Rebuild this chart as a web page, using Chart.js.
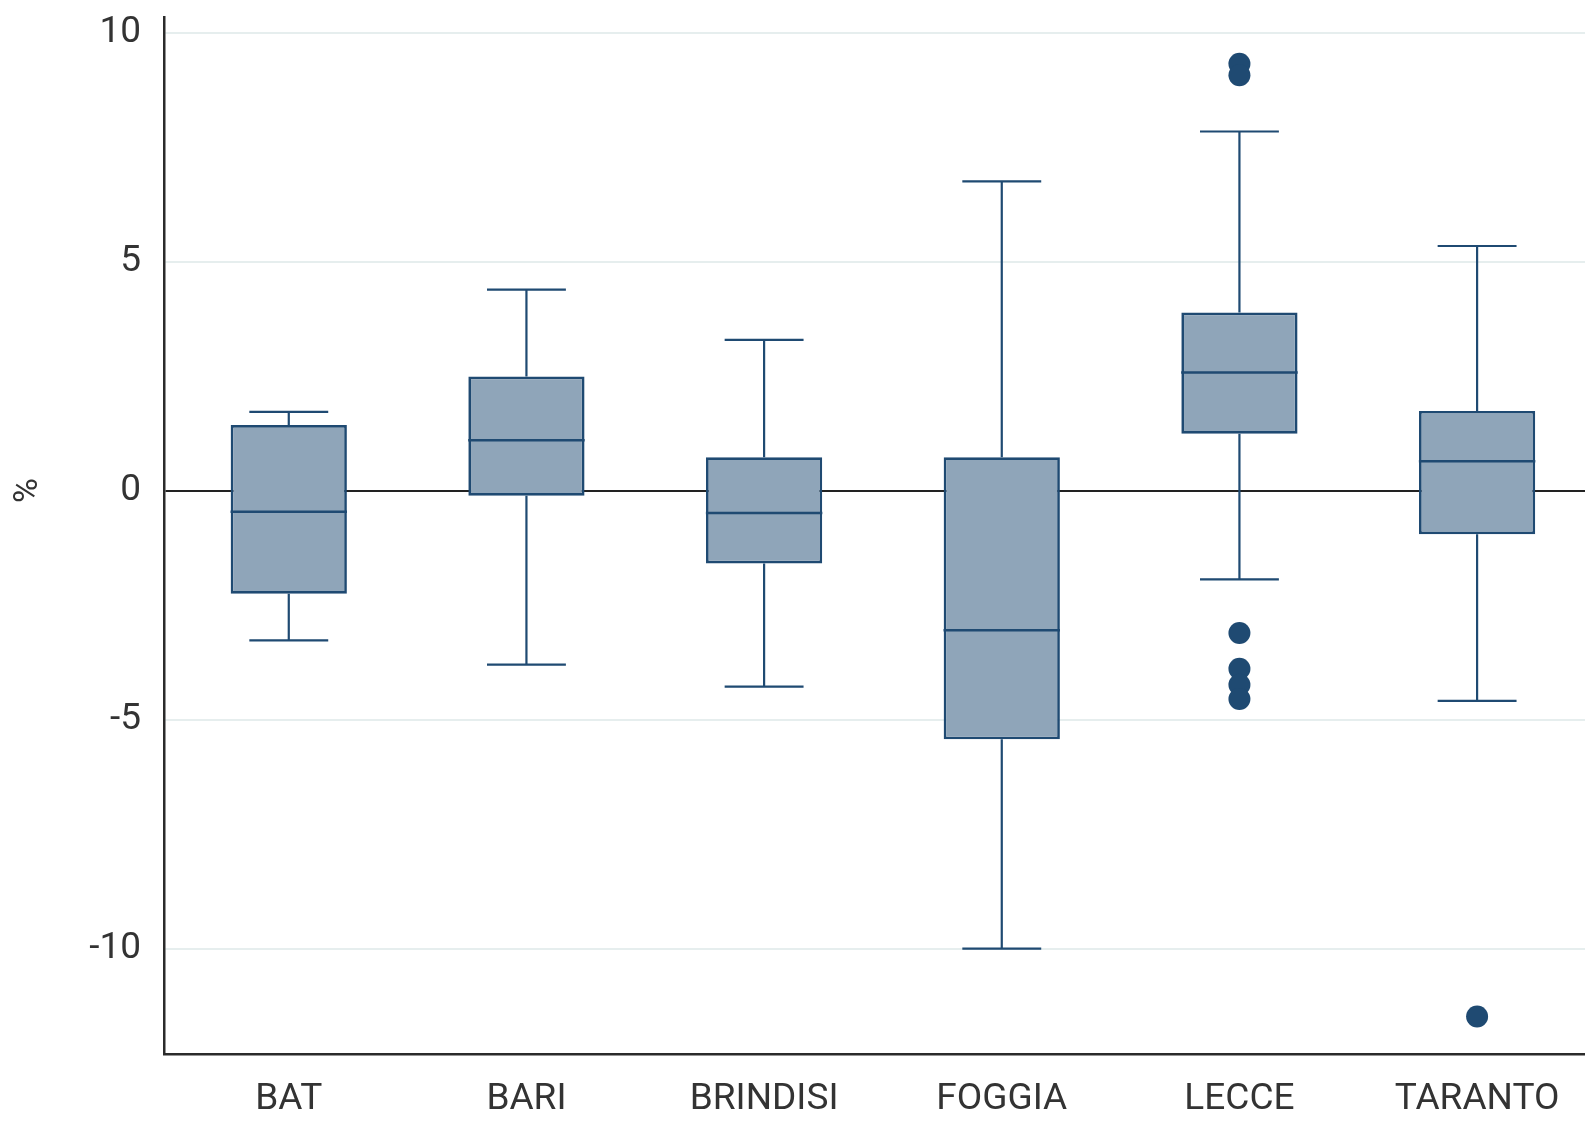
<!DOCTYPE html>
<html>
<head>
<meta charset="utf-8">
<script src="https://cdn.jsdelivr.net/npm/chart.js@4.4.1/dist/chart.umd.min.js"></script>
<style>
  html, body { margin: 0; padding: 0; background: #fff; overflow: hidden; }
  canvas { display: block; }
</style>
</head>
<body>
<canvas id="grafico" width="1585" height="1121"></canvas>
<script>
// province
const categories = ['BAT', 'BARI', 'BRINDISI', 'FOGGIA', 'LECCE', 'TARANTO'];

// statistiche del box plot (%)
const whiskerLow  = [-3.27, -3.80, -4.28, -10.00, -1.94, -4.59];
const q1          = [-2.25, -0.11, -1.59,  -5.43,  1.24, -0.95];
const median      = [-0.46,  1.10, -0.49,  -3.05,  2.58,  0.64];
const q3          = [ 1.43,  2.49,  0.73,   0.73,  3.89,  1.74];
const whiskerHigh = [ 1.72,  4.39,  3.29,   6.75,  7.84,  5.34];

// valori anomali: indice della provincia (1 = BAT) e valore
const outlierCat = [5, 5, 5, 5, 5, 5, 6];
const outlierVal = [9.32, 9.07, -3.11, -3.89, -4.24, -4.55, -11.48];

const yTicks = [-10, -5, 0, 5, 10];
const yTitle = '%';

const lineColor = '#1f4a72';
const fillColor = '#8fa5b9';
const textColor = '#333333';

const boxData = categories.map((c, i) => ({ x: i + 1, y: [q1[i], q3[i]] }));
const outlierData = outlierVal.map((v, i) => ({ x: outlierCat[i], y: v }));

// baffi, mediana e titolo asse y disegnati con le scale del grafico
const whiskerPlugin = {
    id: 'whiskers',
    afterDatasetsDraw(chart) {
        const ctx = chart.ctx;
        const xs = chart.scales.x;
        const ys = chart.scales.y;
        const capHalf = 0.166;
        const boxHalf = 0.245;
        ctx.save();
        ctx.strokeStyle = lineColor;
        ctx.lineWidth = 2.2;
        for (let i = 0; i < categories.length; i++) {
            const cx = xs.getPixelForValue(i + 1);
            const capL = xs.getPixelForValue(i + 1 - capHalf);
            const capR = xs.getPixelForValue(i + 1 + capHalf);
            ctx.beginPath();
            // baffo superiore
            ctx.moveTo(cx, ys.getPixelForValue(q3[i]));
            ctx.lineTo(cx, ys.getPixelForValue(whiskerHigh[i]));
            ctx.moveTo(capL, ys.getPixelForValue(whiskerHigh[i]));
            ctx.lineTo(capR, ys.getPixelForValue(whiskerHigh[i]));
            // baffo inferiore
            ctx.moveTo(cx, ys.getPixelForValue(q1[i]));
            ctx.lineTo(cx, ys.getPixelForValue(whiskerLow[i]));
            ctx.moveTo(capL, ys.getPixelForValue(whiskerLow[i]));
            ctx.lineTo(capR, ys.getPixelForValue(whiskerLow[i]));
            ctx.stroke();
            // mediana
            ctx.beginPath();
            ctx.lineWidth = 2.6;
            ctx.moveTo(xs.getPixelForValue(i + 1 - boxHalf), ys.getPixelForValue(median[i]));
            ctx.lineTo(xs.getPixelForValue(i + 1 + boxHalf), ys.getPixelForValue(median[i]));
            ctx.stroke();
            ctx.lineWidth = 2.2;
        }
        // titolo "%" all'altezza dello zero
        ctx.translate(28, ys.getPixelForValue(0));
        ctx.rotate(-Math.PI / 2);
        ctx.fillStyle = textColor;
        ctx.font = '34px Roboto, "DejaVu Sans", sans-serif';
        ctx.textAlign = 'center';
        ctx.textBaseline = 'middle';
        ctx.fillText(yTitle, 0, 0);
        ctx.restore();
    }
};

Chart.defaults.font.family = 'Roboto, "DejaVu Sans", sans-serif';
Chart.defaults.color = textColor;

const ctx = document.getElementById('grafico').getContext('2d');
const myChart = new Chart(ctx, {
    type: 'bar',
    data: {
        datasets: [{
            type: 'scatter',
            label: 'anomali',
            data: outlierData,
            backgroundColor: lineColor,
            borderWidth: 0,
            pointRadius: 11,
            order: 0
        }, {
            label: 'box',
            data: boxData,
            backgroundColor: fillColor,
            borderColor: lineColor,
            borderWidth: 2.7,
            borderSkipped: false,
            categoryPercentage: 1,
            barPercentage: 0.489,
            order: 1
        }]
    },
    options: {
        responsive: false,
        animation: false,
        devicePixelRatio: 1,
        layout: { autoPadding: false, padding: { top: 17, right: 0, left: 0, bottom: 0 } },
        plugins: {
            legend: { display: false },
            tooltip: { enabled: false }
        },
        scales: {
            x: {
                type: 'linear',
                offset: false,
                min: 0.475,
                max: 6.454,
                afterBuildTicks: (scale) => {
                    scale.ticks = categories.map((c, i) => ({ value: i + 1 }));
                },
                afterFit: (scale) => {
                    scale.height = 67;
                    scale.paddingLeft = 0;
                    scale.paddingRight = 0;
                },
                grid: { display: false, drawTicks: false },
                border: { display: true, color: '#2b2b2b', width: 2.5 },
                ticks: {
                    padding: 24,
                    maxRotation: 0,
                    autoSkip: false,
                    font: { size: 37 },
                    callback: (v) => categories[v - 1]
                }
            },
            y: {
                min: -12.30,
                max: 10.34,
                afterBuildTicks: (scale) => {
                    scale.ticks = yTicks.map(v => ({ value: v }));
                },
                afterFit: (scale) => {
                    scale.width = 164;
                    scale.paddingTop = 0;
                    scale.paddingBottom = 0;
                },
                grid: {
                    drawTicks: false,
                    color: (c) => c.tick && c.tick.value === 0 ? '#222222' : '#e6eeee',
                    lineWidth: 2
                },
                border: { display: true, color: '#2b2b2b', width: 2.5 },
                ticks: {
                    padding: 23,
                    font: { size: 37 }
                }
            }
        }
    },
    plugins: [whiskerPlugin]
});
</script>
</body>
</html>
